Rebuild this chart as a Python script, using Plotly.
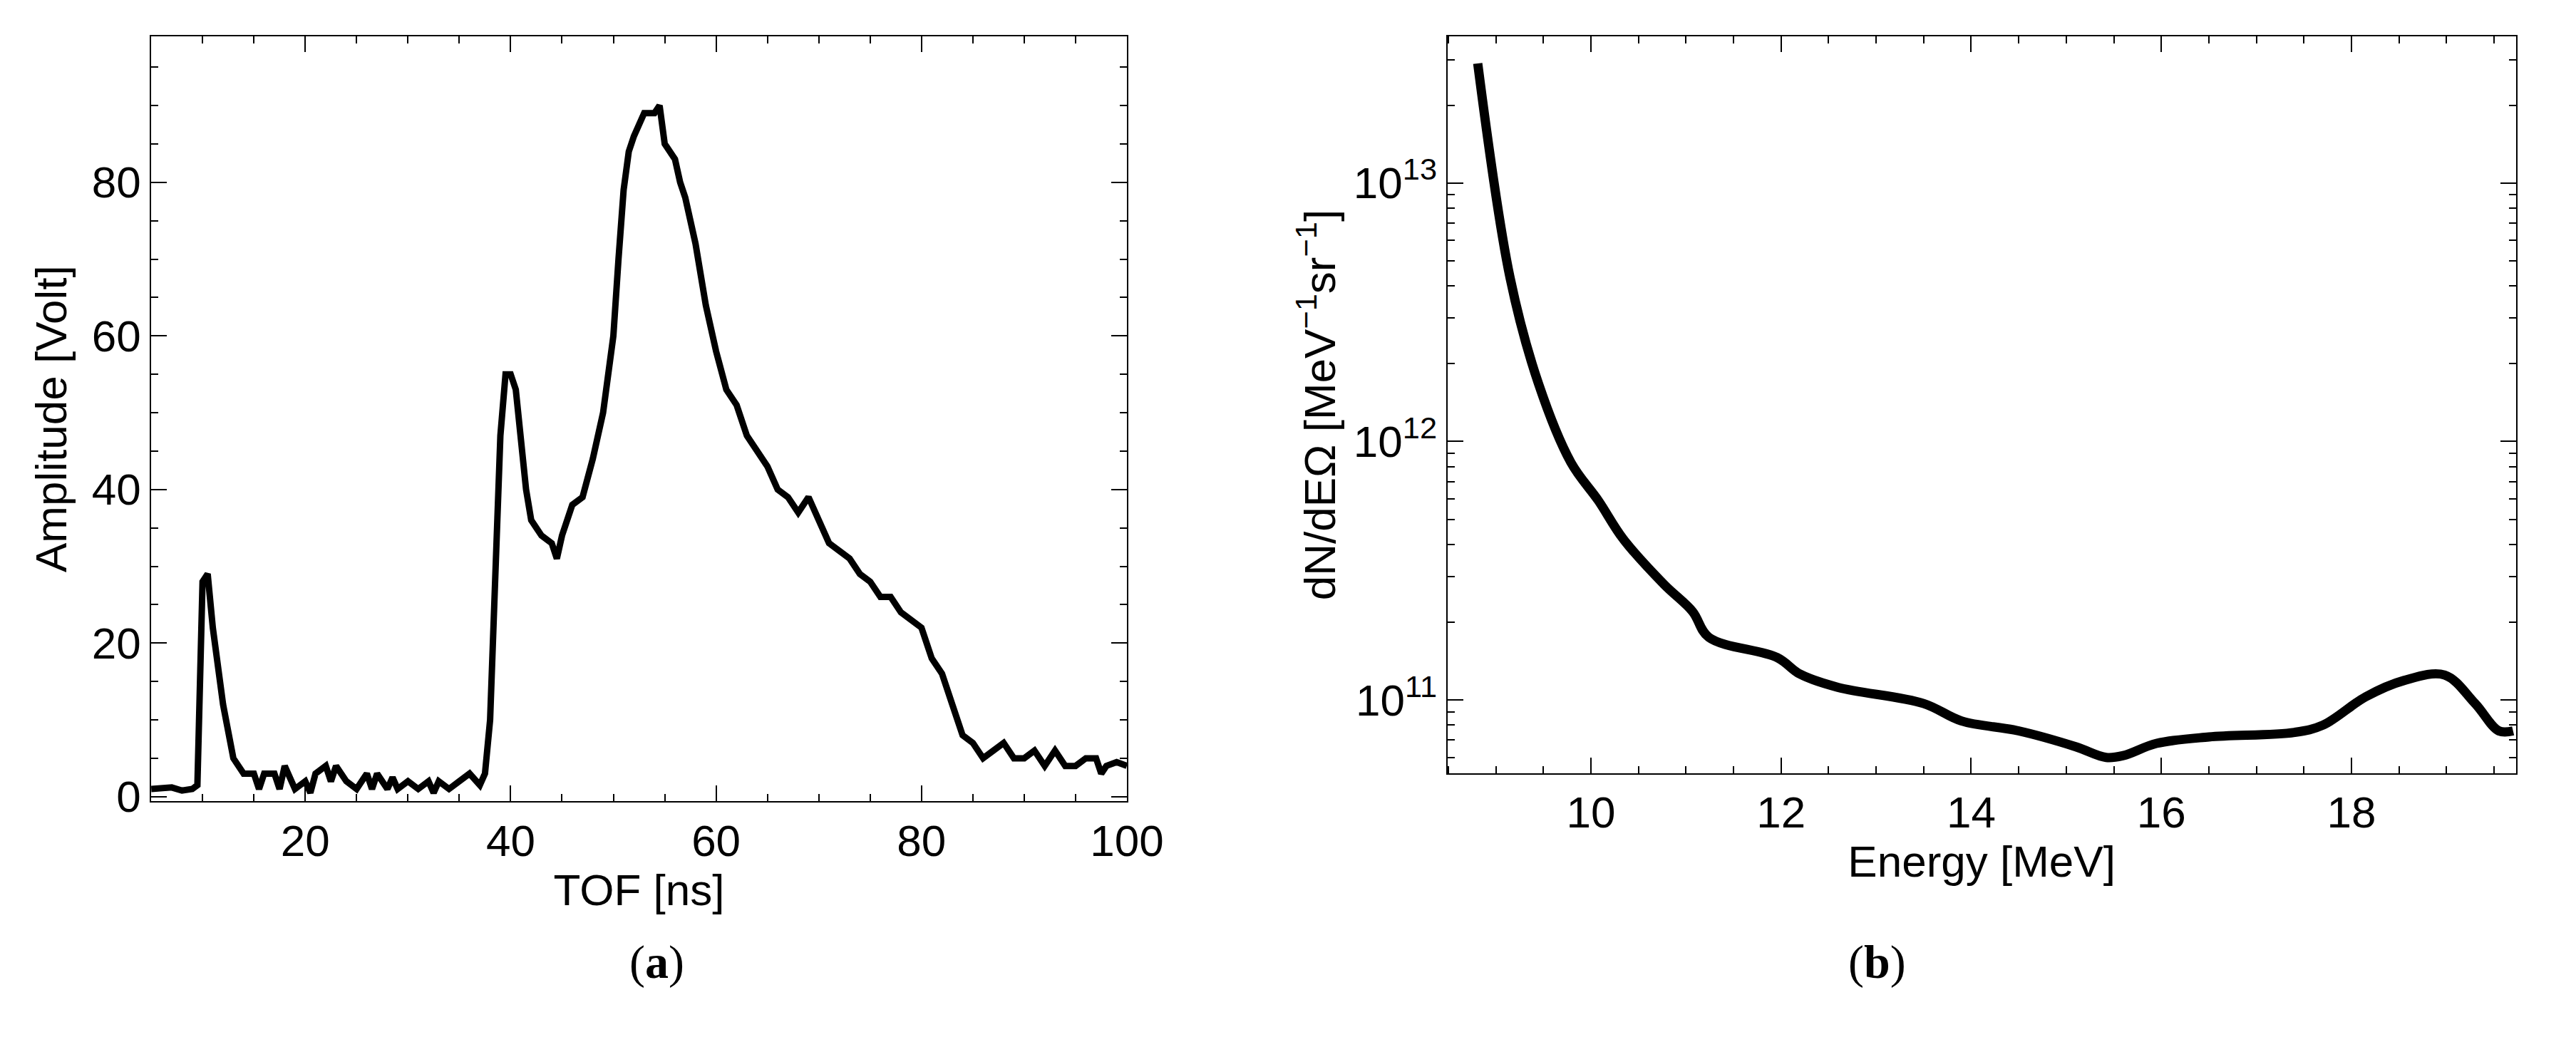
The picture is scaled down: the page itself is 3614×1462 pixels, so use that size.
import plotly.graph_objects as go

tof = [5,6,7,8,9,9.5,10,10.5,11,12,12.5,13,14,15,15.5,16,17,17.5,18,19,20,20.5,21,22,22.5,23,24,25,26,26.5,27,28,28.5,29,30,31,32,32.5,33,34,35,36,37,37.5,38,38.5,39,39.5,40,40.5,41,41.5,42,43,44,44.5,45,46,47,48,49,50,50.5,51,51.5,52,53,54,54.5,55,56,56.5,57,58,59,60,61,62,63,64,65,66,67,68,69,70,71,72,73,74,75,76,77,78,79,80,81,82,83,84,85,86,87,88,89,90,91,92,93,94,95,96,97,97.5,98,99,100]
amp = [1,1,1.2,0.8,1,1.5,28,29,22,12,8,5,3,3,1,3,3,1,4,1,2,0.5,3,4,2,4,2,1,3,1,3,1,2.5,1,2,1,2,0.5,2,1,2,3,1.5,3,10,28,47,55,55,53,46,40,36,34,33,31,34,38,39,44,50,60,70,79,84,86,89,89,90,85,83,80,78,72,64,58,53,51,47,45,43,40,39,37,39,36,33,32,31,29,28,26,26,24,23,22,18,16,12,8,7,5,6,7,5,5,6,4,6,4,4,5,5,3,4,4.5,4]

energy = [8.81,9.15,9.45,9.79,10.08,10.34,10.77,11.07,11.24,11.96,12.2,12.6,13.5,13.9,14.5,15.1,15.42,15.6,15.95,16.5,17.4,17.7,18.15,18.55,18.98,19.3,19.55,19.7]
dnde = [2.9e13,4.3e12,1.67e12,8.3e11,5.9e11,4.2e11,2.8e11,2.2e11,1.75e11,1.46e11,1.26e11,1.12e11,9.7e10,8.3e10,7.6e10,6.6e10,6.0e10,6.1e10,6.8e10,7.2e10,7.5e10,8.0e10,1.03e11,1.19e11,1.25e11,9.7e10,7.6e10,7.6e10]

log_minor = [m * 10**e for e in (10, 11, 12, 13) for m in range(2, 10)]

fig = go.Figure()
fig.add_trace(go.Scatter(x=tof, y=amp, mode="lines", line=dict(color="black", width=9), xaxis="x", yaxis="y"))
fig.add_trace(go.Scatter(x=energy, y=dnde, mode="lines", line=dict(color="black", width=13, shape="spline"), xaxis="x2", yaxis="y2"))

F = dict(family="Liberation Sans, Arial, sans-serif", size=62, color="black")
base = dict(showline=True, linecolor="black", linewidth=2, mirror="ticks", ticks="inside",
            ticklen=22, tickwidth=2, tickcolor="black", showgrid=False, zeroline=False, tickfont=F)
lin_minor = dict(minor=dict(ticks="inside", ticklen=10, tickcolor="black", tickwidth=1.5))

fig.update_layout(
    width=3614, height=1462, paper_bgcolor="white", plot_bgcolor="white",
    margin=dict(l=0, r=0, t=0, b=0), showlegend=False,
    xaxis=dict(domain=[0.0573, 0.4416], range=[5, 100], tickvals=[20,40,60,80,100],
               title=dict(text="TOF [ns]", font=F, standoff=5), anchor="y", **base, **lin_minor),
    yaxis=dict(domain=[0.2216, 0.970], range=[-0.6, 99], tickvals=[0,20,40,60,80],
               title=dict(text="Amplitude [Volt]", font=F, standoff=15), anchor="x", **base, **lin_minor),
    xaxis2=dict(domain=[0.5678, 0.9887], range=[8.49, 19.73], tickvals=[10,12,14,16,18],
                title=dict(text="Energy [MeV]", font=F, standoff=5), anchor="y2", **base, **lin_minor),
    yaxis2=dict(domain=[0.249, 0.970], type="log", range=[10.717, 13.567],
                tickvals=[1e11,1e12,1e13], ticktext=["10<sup>11</sup>","10<sup>12</sup>","10<sup>13</sup>"],
                minor=dict(ticks="inside", ticklen=10, tickcolor="black", tickwidth=1.5, tickvals=log_minor),
                title=dict(text="dN/dEΩ [MeV<sup>−1</sup>sr<sup>−1</sup>]", font=F, standoff=5), anchor="x2", **base),
)
cap = dict(family="Liberation Serif, Times New Roman, serif", size=66, color="black")
fig.add_annotation(x=0.245, y=0.037, xref="paper", yref="paper", text="(<b>a</b>)", showarrow=False, font=cap)
fig.add_annotation(x=0.749, y=0.037, xref="paper", yref="paper", text="(<b>b</b>)", showarrow=False, font=cap)
fig.write_html("out.html")
